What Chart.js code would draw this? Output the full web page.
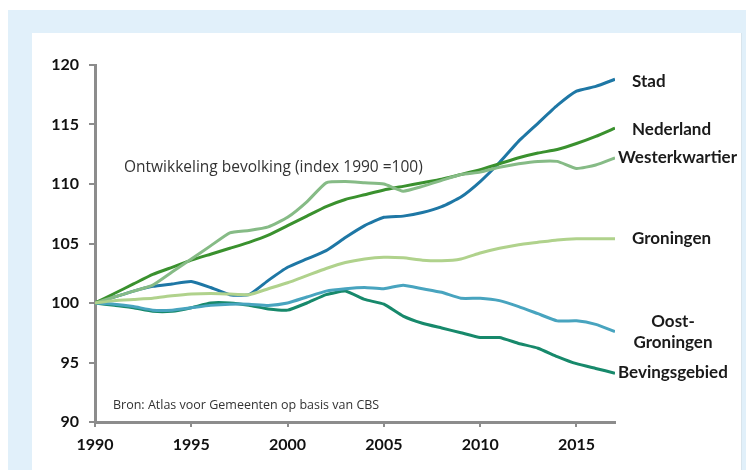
<!DOCTYPE html>
<html>
<head>
<meta charset="utf-8">
<script src="https://cdn.jsdelivr.net/npm/chart.js@4"></script>
<style>
  html, body { margin: 0; padding: 0; background: #fff; }
  #wrap { position: relative; width: 746px; height: 470px; overflow: hidden; }
  #frame { position: absolute; left: 8px; top: 10px; width: 738px; height: 460px; background: #e1f0fa; }
  #panel { position: absolute; left: 32px; top: 33px; width: 709px; height: 437px; background: #fff; border-right: 1px solid #d8e4ec; }
  canvas { position: absolute; left: 0; top: 0; }
</style>
</head>
<body>
<div id="wrap">
  <div id="frame"></div>
  <div id="panel"></div>
  <canvas id="chart" width="746" height="470"></canvas>
</div>
<script>
// years 1990-2017, index 1990 = 100
const years = [1990, 1991, 1992, 1993, 1994, 1995, 1996, 1997, 1998, 1999, 2000, 2001, 2002, 2003,
               2004, 2005, 2006, 2007, 2008, 2009, 2010, 2011, 2012, 2013, 2014, 2015, 2016, 2017];

const stad = [100, 100.5, 101.0, 101.4, 101.6, 101.8, 101.3, 100.7, 100.7, 101.9, 103.0, 103.7, 104.4, 105.5,
              106.5, 107.2, 107.3, 107.6, 108.1, 108.9, 110.2, 111.8, 113.6, 115.1, 116.6, 117.8, 118.2, 118.8];
const nederland = [100, 100.8, 101.6, 102.4, 103.0, 103.6, 104.1, 104.6, 105.1, 105.7, 106.5, 107.3, 108.1, 108.7,
                   109.1, 109.5, 109.8, 110.1, 110.4, 110.8, 111.2, 111.7, 112.2, 112.6, 112.9, 113.4, 114.0, 114.7];
const westerkwartier = [100, 100.5, 101.0, 101.5, 102.6, 103.7, 104.8, 105.9, 106.1, 106.4, 107.2, 108.5, 110.1, 110.2,
                        110.1, 110.0, 109.4, 109.8, 110.3, 110.8, 111.0, 111.4, 111.7, 111.9, 111.9, 111.3, 111.6, 112.2];
const groningen = [100, 100.2, 100.3, 100.4, 100.6, 100.75, 100.8, 100.75, 100.7, 101.2, 101.7, 102.3, 102.9, 103.4,
                   103.7, 103.85, 103.8, 103.6, 103.55, 103.7, 104.2, 104.6, 104.9, 105.1, 105.3, 105.4, 105.4, 105.4];
const oostGroningen = [100, 99.9, 99.7, 99.4, 99.4, 99.6, 99.8, 99.9, 99.9, 99.8, 100.0, 100.5, 101.0, 101.2,
                       101.3, 101.2, 101.5, 101.2, 100.9, 100.4, 100.4, 100.2, 99.7, 99.1, 98.5, 98.5, 98.2, 97.6];
const bevingsgebied = [100, 99.8, 99.6, 99.3, 99.3, 99.6, 100.0, 100.0, 99.8, 99.5, 99.4, 100.0, 100.7, 101.0,
                       100.3, 99.9, 98.9, 98.3, 97.9, 97.5, 97.1, 97.1, 96.6, 96.2, 95.5, 94.9, 94.5, 94.1];

const seriesNames = ['Groningen', 'Westerkwartier', 'Nederland', 'Oost-Groningen', 'Bevingsgebied', 'Stad'];
const seriesValues = [groningen, westerkwartier, nederland, oostGroningen, bevingsgebied, stad];
const endLabels = [['Groningen'], ['Westerkwartier'], ['Nederland'], ['Oost-', 'Groningen'], ['Bevingsgebied'], ['Stad']];

const titleText = 'Ontwikkeling bevolking (index 1990 =100)';
const sourceText = 'Bron: Atlas voor Gemeenten op basis van CBS';

const colors = ['#b0d28c', '#86bb86', '#3a912e', '#48a4bf', '#17896b', '#1e77a5'];
// label x position and alignment per series
const labelPos = [
  { x: 632, align: 'left', dy: [0] },
  { x: 618, align: 'left', dy: [0] },
  { x: 632, align: 'left', dy: [1] },
  { x: 673, align: 'center', dy: [-10, 11] },
  { x: 618, align: 'left', dy: [-1] },
  { x: 632, align: 'left', dy: [2] }
];

const axisGray = '#8c8c8c';
const tickFont = { family: 'Lato', size: 16, weight: 'bold' };

const datasets = seriesNames.map((name, i) => ({
  label: name,
  data: years.map((y, j) => ({ x: y, y: seriesValues[i][j] })),
  borderColor: colors[i],
  borderWidth: 3,
  pointRadius: 0,
  tension: 0.15,
  fill: false
}));

const endLabelPlugin = {
  id: 'endLabels',
  afterDatasetsDraw(chart) {
    const ctx = chart.ctx;
    ctx.save();
    ctx.fillStyle = '#1a1a1a';
    ctx.font = 'bold 17px Lato';
    ctx.textBaseline = 'middle';
    chart.data.datasets.forEach((ds, i) => {
      const meta = chart.getDatasetMeta(i);
      const last = meta.data[meta.data.length - 1];
      const p = labelPos[i];
      ctx.textAlign = p.align;
      endLabels[i].forEach((line, k) => {
        ctx.fillText(line, p.x, last.y + p.dy[k]);
      });
    });
    // annotations inside plot
    ctx.fillStyle = '#333';
    ctx.textAlign = 'left';
    ctx.font = '15.5px "Open Sans"';
    ctx.fillText(titleText, 124, 168);
    ctx.font = '12.5px "Open Sans"';
    ctx.fillText(sourceText, 113, 405);
    ctx.restore();
  }
};

new Chart(document.getElementById('chart'), {
  type: 'line',
  data: { datasets: datasets },
  options: {
    responsive: false,
    animation: false,
    layout: { padding: { left: 30, top: 65, right: 131, bottom: 0 } },
    plugins: { legend: { display: false }, tooltip: { enabled: false } },
    scales: {
      x: {
        type: 'linear',
        min: 1990,
        max: 2017,
        afterBuildTicks(scale) {
          scale.ticks = [1990, 1995, 2000, 2005, 2010, 2015].map(v => ({ value: v }));
        },
        afterFit(scale) { scale.height = 48; },
        ticks: { color: '#111', font: tickFont, padding: 8, callback: v => String(v) },
        grid: { drawOnChartArea: false, drawTicks: true, tickLength: 5, color: axisGray, lineWidth: 2 },
        border: { display: true, color: axisGray, width: 3 }
      },
      y: {
        min: 90,
        max: 120,
        afterFit(scale) { scale.width = 65; },
        ticks: { stepSize: 5, color: '#111', font: tickFont, padding: 10 },
        grid: { drawOnChartArea: false, drawTicks: true, tickLength: 6, color: axisGray, lineWidth: 2 },
        border: { display: true, color: axisGray, width: 3 }
      }
    }
  },
  plugins: [endLabelPlugin]
});
</script>
</body>
</html>
